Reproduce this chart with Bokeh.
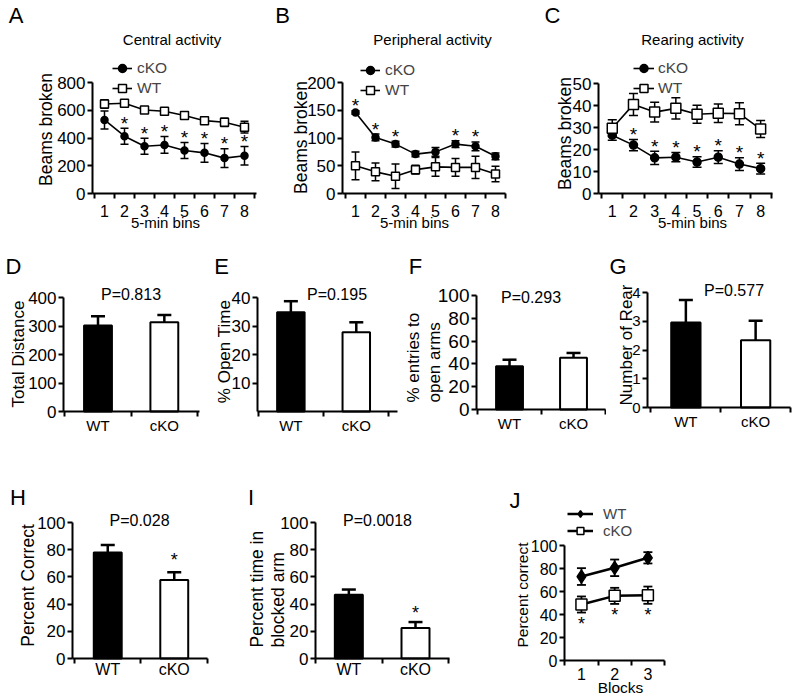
import math
from bokeh.plotting import figure
from bokeh.models import Range1d, FixedTicker, Label, Legend, LegendItem
from bokeh.layouts import row, column
from bokeh.embed import file_html
from bokeh.resources import INLINE
from bokeh.core.properties import value

FONT = "Liberation Sans"

# ---------------- data ----------------
bins = [1, 2, 3, 4, 5, 6, 7, 8]

central_cko = [530, 413, 341, 350, 310, 293, 255, 272]
central_cko_err = [65, 58, 58, 60, 58, 68, 67, 67]
central_wt = [645, 650, 602, 593, 562, 525, 513, 478]
central_wt_err = [30, 20, 24, 24, 24, 24, 30, 42]
central_sig = [2, 3, 4, 5, 6, 7, 8]

periph_cko = [146, 101, 89, 71, 75, 89, 85, 67]
periph_cko_err = [3, 6, 5, 5, 8, 6, 8, 6]
periph_wt = [50, 39, 31, 43, 48, 47, 47, 35]
periph_wt_err = [25, 16, 22, 8, 17, 16, 20, 14]
periph_sig = [1, 2, 3, 6, 7]

rear_cko = [26.5, 22, 16.2, 16.5, 14.3, 16.5, 13.4, 11.3]
rear_cko_err = [2.3, 2.6, 3.0, 2.1, 2.4, 2.9, 2.9, 2.4]
rear_wt = [29.7, 40.5, 37, 38.7, 36, 36.5, 36.3, 29.3]
rear_wt_err = [3.8, 5.0, 4.5, 4.8, 4.1, 4.2, 5.0, 3.9]
rear_sig = [2, 3, 4, 5, 6, 7, 8]

groups = ["WT", "cKO"]
group_fill = ["black", "white"]
dist_mean = [302, 313]
dist_err = [32, 26]
dist_p = "P=0.813"
open_time = [34.8, 27.8]
open_time_err = [3.9, 3.5]
open_time_p = "P=0.195"
entries = [38, 45.5]
entries_err = [5.7, 4.1]
entries_p = "P=0.293"
rears = [2.96, 2.34]
rears_err = [0.78, 0.68]
rears_p = "P=0.577"
correct = [78, 57.8]
correct_err = [5.4, 5.6]
correct_p = "P=0.028"
correct_sig = ["cKO"]
blocked = [46.8, 22.4]
blocked_err = [3.9, 4.4]
blocked_p = "P=0.0018"
blocked_sig = ["cKO"]

blocks = [1, 2, 3]
j_wt = [73, 80.6, 89.3]
j_wt_err = [7.3, 7.2, 4.9]
j_cko = [48.7, 56.2, 56.8]
j_cko_err = [7, 7, 7.5]
j_sig = [1, 2, 3]

HALF_PI = math.pi / 2


# ---------------- helpers ----------------
class Panel:
    """A figure whose frame fills the whole box; axes sit at fixed data locations."""

    def __init__(self, box, frame, xr, yr):
        fx0, fy0, fx1, fy1 = box
        L, T, R, B = frame
        x0, x1 = xr
        y0, y1 = yr
        kx = (x1 - x0) / (R - L)
        ky = (y1 - y0) / (B - T)
        self.box = box
        self.kx, self.ky = kx, ky
        self.L, self.B, self.x0, self.y0 = L, B, x0, y0
        X0 = x0 - (L - fx0) * kx
        X1 = x0 + (fx1 - L) * kx
        Y0 = y0 - (fy1 - B) * ky
        Y1 = y0 + (B - fy0) * ky
        p = figure(width=fx1 - fx0, height=fy1 - fy0,
                   x_range=Range1d(X0, X1), y_range=Range1d(Y0, Y1),
                   min_border_left=0, min_border_right=0,
                   min_border_top=0, min_border_bottom=0,
                   output_backend="svg", toolbar_location=None, title=None)
        p.outline_line_color = None
        p.xgrid.visible = False
        p.ygrid.visible = False
        p.background_fill_color = "white"
        p.border_fill_color = "white"
        xa, ya = p.xaxis[0], p.yaxis[0]
        xa.fixed_location = y0
        ya.fixed_location = x0
        xa.bounds = (x0, x1)
        for ax in (xa, ya):
            ax.axis_line_width = 2
            ax.axis_line_color = "black"
            ax.major_tick_line_width = 2
            ax.minor_tick_line_width = 2
            ax.major_tick_line_color = "black"
            ax.minor_tick_line_color = "black"
            ax.major_tick_in = 0
            ax.minor_tick_in = 0
            ax.major_tick_out = 5
            ax.minor_tick_out = 0
            ax.major_label_text_font = FONT
            ax.major_label_text_color = "black"
        ya.major_label_standoff = 2
        self.p = p

    def data(self, px, py):
        return (self.x0 + (px - self.L) * self.kx, self.y0 + (self.B - py) * self.ky)

    def label(self, px, py, text, size, angle=0.0, align="center", baseline="middle"):
        x, y = self.data(px, py)
        self.p.add_layout(Label(x=x, y=y, text=text, text_font=FONT,
                                text_font_size=f"{size}px", text_color="black",
                                text_align=align, text_baseline=baseline, angle=angle))

    def yticks(self, ticks, size, bounds):
        ax = self.p.yaxis[0]
        ax.ticker = FixedTicker(ticks=ticks, minor_ticks=[])
        ax.bounds = bounds
        ax.major_label_text_font_size = f"{size}px"

    def legend(self, items, glyph_left, bottom, glyph_w, standoff, size, item_h):
        fx0, fy0, fx1, fy1 = self.box
        leg = Legend(items=items, location=(glyph_left - fx0, fy1 - bottom),
                     orientation="vertical",
                     glyph_width=glyph_w, glyph_height=item_h, label_height=item_h,
                     label_standoff=standoff, spacing=0, padding=0, margin=0,
                     label_text_font=FONT, label_text_font_size=f"{size}px",
                     border_line_alpha=0, background_fill_alpha=0)
        self.p.add_layout(leg)


def errbars(p, x, m, e, lw, cap, both=True):
    hi = [a + b for a, b in zip(m, e)]
    lo = [a - b for a, b in zip(m, e)] if both else list(m)
    p.segment(x0=x, y0=lo, x1=x, y1=hi, line_color="black", line_width=lw)
    cx = list(x) + list(x) if both else list(x)
    cy = lo + hi if both else hi
    p.scatter(x=cx, y=cy, marker="dash", size=cap, line_color="black", line_width=lw)


def line_panel(pan, x, series, sig_x, sig_y, star_off, star_size, xt_size, minor, xt_standoff=6):
    p = pan.p
    for (m, e, _lbl, _mk, _ms, _fill, lw, elw, cap) in series:
        errbars(p, x, m, e, elw, cap)
    items = []
    for (m, e, lbl, mk, ms, fill, lw, elw, cap) in series:
        ln = p.line(x, m, line_color="black", line_width=lw)
        sc = p.scatter(x, m, marker=mk, size=ms, fill_color=fill,
                       line_color="black", line_width=1.5)
        items.append(LegendItem(label=lbl, renderers=[ln, sc]))
    p.text(x=sig_x, y=sig_y, text=["*"] * len(sig_x), text_font=value(FONT),
           text_font_size=f"{star_size}px", text_align="center",
           text_baseline="alphabetic", y_offset=star_off, text_color="black")
    ax = p.xaxis[0]
    ax.ticker = FixedTicker(ticks=x, minor_ticks=minor)
    ax.major_tick_out = 0
    ax.minor_tick_out = 5
    ax.major_label_standoff = xt_standoff
    ax.major_label_text_font_size = f"{xt_size}px"
    return items


def bar_panel(pan, means, errs, cap, xt_size, p_text, p_pos, p_size, sig=None, star_off=0,
              xt_standoff=0):
    p = pan.p
    xs = [i + 0.5 for i in range(len(groups))]
    p.vbar(x=xs, top=means, bottom=0, width=0.42, fill_color=group_fill,
           line_color="black", line_width=2)
    errbars(p, xs, means, errs, 2.5, cap, both=False)
    if sig:
        sx = [xs[groups.index(g)] for g in sig]
        sy = [means[groups.index(g)] + errs[groups.index(g)] for g in sig]
        p.text(x=sx, y=sy, text=["*"] * len(sx), text_font=value(FONT),
               text_font_size="18px", text_align="center", text_baseline="alphabetic",
               y_offset=star_off, text_color="black")
    ax = p.xaxis[0]
    ax.ticker = FixedTicker(ticks=xs, minor_ticks=[float(i) for i in range(len(groups) + 1)])
    ax.major_label_overrides = {x: g for x, g in zip(xs, groups)}
    ax.major_tick_out = 0
    ax.minor_tick_out = 5
    ax.major_label_standoff = xt_standoff
    ax.major_label_text_font_size = f"{xt_size}px"
    pan.label(p_pos[0], p_pos[1], p_text, p_size)


bin_minor = [k + 0.5 for k in range(0, 9)]

# ---------------- Row 1 ----------------
pa = Panel((0, 0, 265, 240), (92, 58, 256, 193), (0.4, 8.6), (0, 800 + 24 * 800 / 111))
pa.yticks([0, 200, 400, 600, 800], 17, (0, 800))
items = line_panel(pa, bins,
                   [(central_cko, central_cko_err, "cKO", "circle", 7, "black", 1.6, 1.5, 8),
                    (central_wt, central_wt_err, "WT", "square", 8, "white", 1.6, 1.5, 8)],
                   central_sig, [central_cko[i - 1] + central_cko_err[i - 1] for i in central_sig],
                   -5, 19, 16, bin_minor)
pa.legend(items, 112, 98, 20, 5, 15.5, 20)
pa.label(15.5, 15, "A", 22)
pa.label(171.5, 39, "Central activity", 15)
pa.label(45, 129, "Beams broken", 17.5, angle=HALF_PI)
pa.label(165, 222, "5-min bins", 15)

pb = Panel((265, 0, 525, 240), (342, 58, 505, 193), (0.35, 8.5), (0, 200 + 24 * 200 / 111))
pb.yticks([0, 50, 100, 150, 200], 17, (0, 200))
items = line_panel(pb, bins,
                   [(periph_cko, periph_cko_err, "cKO", "circle", 7, "black", 1.6, 1.5, 8),
                    (periph_wt, periph_wt_err, "WT", "square", 8, "white", 1.6, 1.5, 8)],
                   periph_sig, [periph_cko[i - 1] + periph_cko_err[i - 1] for i in periph_sig],
                   -5, 19, 16, bin_minor)
pb.legend(items, 360, 100, 20, 5, 15.5, 20)
pb.label(282, 15, "B", 22)
pb.label(432, 39, "Peripheral activity", 15)
pb.label(300, 137, "Beams broken", 17.5, angle=HALF_PI)
pb.label(414, 222, "5-min bins", 15)

pc = Panel((525, 0, 800, 240), (598, 58, 772, 193), (0.35, 8.56), (0, 50 + 25 * 50 / 110))
pc.yticks([0, 10, 20, 30, 40, 50], 17, (0, 50))
items = line_panel(pc, bins,
                   [(rear_cko, rear_cko_err, "cKO", "circle", 8, "black", 1.6, 1.5, 9),
                    (rear_wt, rear_wt_err, "WT", "square", 10, "white", 1.6, 1.5, 9)],
                   rear_sig, [rear_cko[i - 1] + rear_cko_err[i - 1] for i in rear_sig],
                   -5, 19, 16, bin_minor)
pc.legend(items, 633, 98, 21, 4, 15.5, 20)
pc.label(552, 15, "C", 22)
pc.label(692, 39, "Rearing activity", 15)
pc.label(564, 133, "Beams broken", 17.5, angle=HALF_PI)
pc.label(692, 222, "5-min bins", 15)

# ---------------- Row 2 ----------------
pd = Panel((0, 240, 205, 450), (63, 285, 199, 411), (-0.02, 2.03), (0, 400 + 12 * 400 / 114))
pd.yticks([0, 100, 200, 300, 400], 17, (0, 400))
bar_panel(pd, dist_mean, dist_err, 14, 15, dist_p, (130.5, 294), 16)
pd.label(13, 266, "D", 22)
pd.label(18, 353.5, "Total Distance", 17, angle=HALF_PI)

pe = Panel((205, 240, 403, 450), (257, 285, 397, 411), (-0.01, 2.13), (0, 40 + 12 * 40 / 114))
pe.yticks([10, 20, 30, 40], 17, (0, 40))
bar_panel(pe, open_time, open_time_err, 14, 15, open_time_p, (336.5, 294), 16)
pe.label(221, 266, "E", 22)
pe.label(224, 351, "% Open Time", 17, angle=HALF_PI)

pf = Panel((403, 240, 606, 450), (476, 285, 605, 409), (-0.016, 2.0), (0, 100 + 10 * 100 / 114))
pf.yticks([0, 20, 40, 60, 80, 100], 19, (0, 100))
bar_panel(pf, entries, entries_err, 14, 15, entries_p, (530.5, 297), 16)
pf.label(415, 266, "F", 22)
pf.label(413, 402, "% entries to", 17, angle=HALF_PI, align="left")
pf.label(434, 402, "open arms", 17, angle=HALF_PI, align="left")

pg = Panel((606, 240, 800, 450), (647, 282, 790, 407), (-0.05, 2.0), (0, 4 + 10 * 4 / 115))
pg.yticks([0, 1, 2, 3, 4], 15, (0, 4))
bar_panel(pg, rears, rears_err, 14, 15, rears_p, (733.5, 290), 16)
pg.label(617.5, 266, "G", 22)
pg.label(626, 344.5, "Number of Rear", 17, angle=HALF_PI)

# ---------------- Row 3 ----------------
ph = Panel((0, 450, 245, 699), (72, 505, 207, 658), (-0.03, 2.0), (0, 100 + 17 * 100 / 136))
ph.yticks([0, 20, 40, 60, 80, 100], 17, (0, 100))
bar_panel(ph, correct, correct_err, 14, 16, correct_p, (139, 519.5), 16, correct_sig, -12,
          xt_standoff=-3)
ph.label(17.5, 497, "H", 22)
ph.label(27, 585, "Percent Correct", 17.5, angle=HALF_PI)

pi_ = Panel((245, 450, 500, 699), (315, 505, 449, 658), (0.0, 2.01), (0, 100 + 17 * 100 / 136))
pi_.yticks([0, 20, 40, 60, 80, 100], 17, (0, 100))
bar_panel(pi_, blocked, blocked_err, 14, 16, blocked_p, (377, 519.5), 16, blocked_sig, -9,
          xt_standoff=-3)
pi_.label(250.5, 497, "I", 22)
pi_.label(256, 647, "Percent time in", 17.5, angle=HALF_PI, align="left")
pi_.label(277, 647, "blocked arm", 17.5, angle=HALF_PI, align="left")

pj = Panel((500, 450, 800, 699), (564, 500, 664, 660), (0.49, 3.5), (0, 100 + 45 * 100 / 115))
pj.yticks([0, 20, 40, 60, 80, 100], 16, (0, 100))
items = line_panel(pj, blocks,
                   [(j_wt, j_wt_err, "WT", "diamond", 13, "black", 2.5, 1.8, 9),
                    (j_cko, j_cko_err, "cKO", "square", 11, "white", 2.5, 1.8, 9)],
                   j_sig, [j_cko[i - 1] - j_cko_err[i - 1] for i in j_sig],
                   11, 18, 16, [0.5, 1.5, 2.5, 3.5], xt_standoff=2)
pj.legend(items, 567, 539, 26, 10, 15, 17)
pj.label(514.5, 500, "J", 22)
pj.label(522, 594.5, "Percent correct", 15.5, angle=HALF_PI)
pj.label(620, 687, "Blocks", 15.5)

layout = column(
    row(pa.p, pb.p, pc.p, spacing=0),
    row(pd.p, pe.p, pf.p, pg.p, spacing=0),
    row(ph.p, pi_.p, pj.p, spacing=0),
    spacing=0,
)

with open("out.html", "w") as f:
    f.write(file_html(layout, INLINE))
